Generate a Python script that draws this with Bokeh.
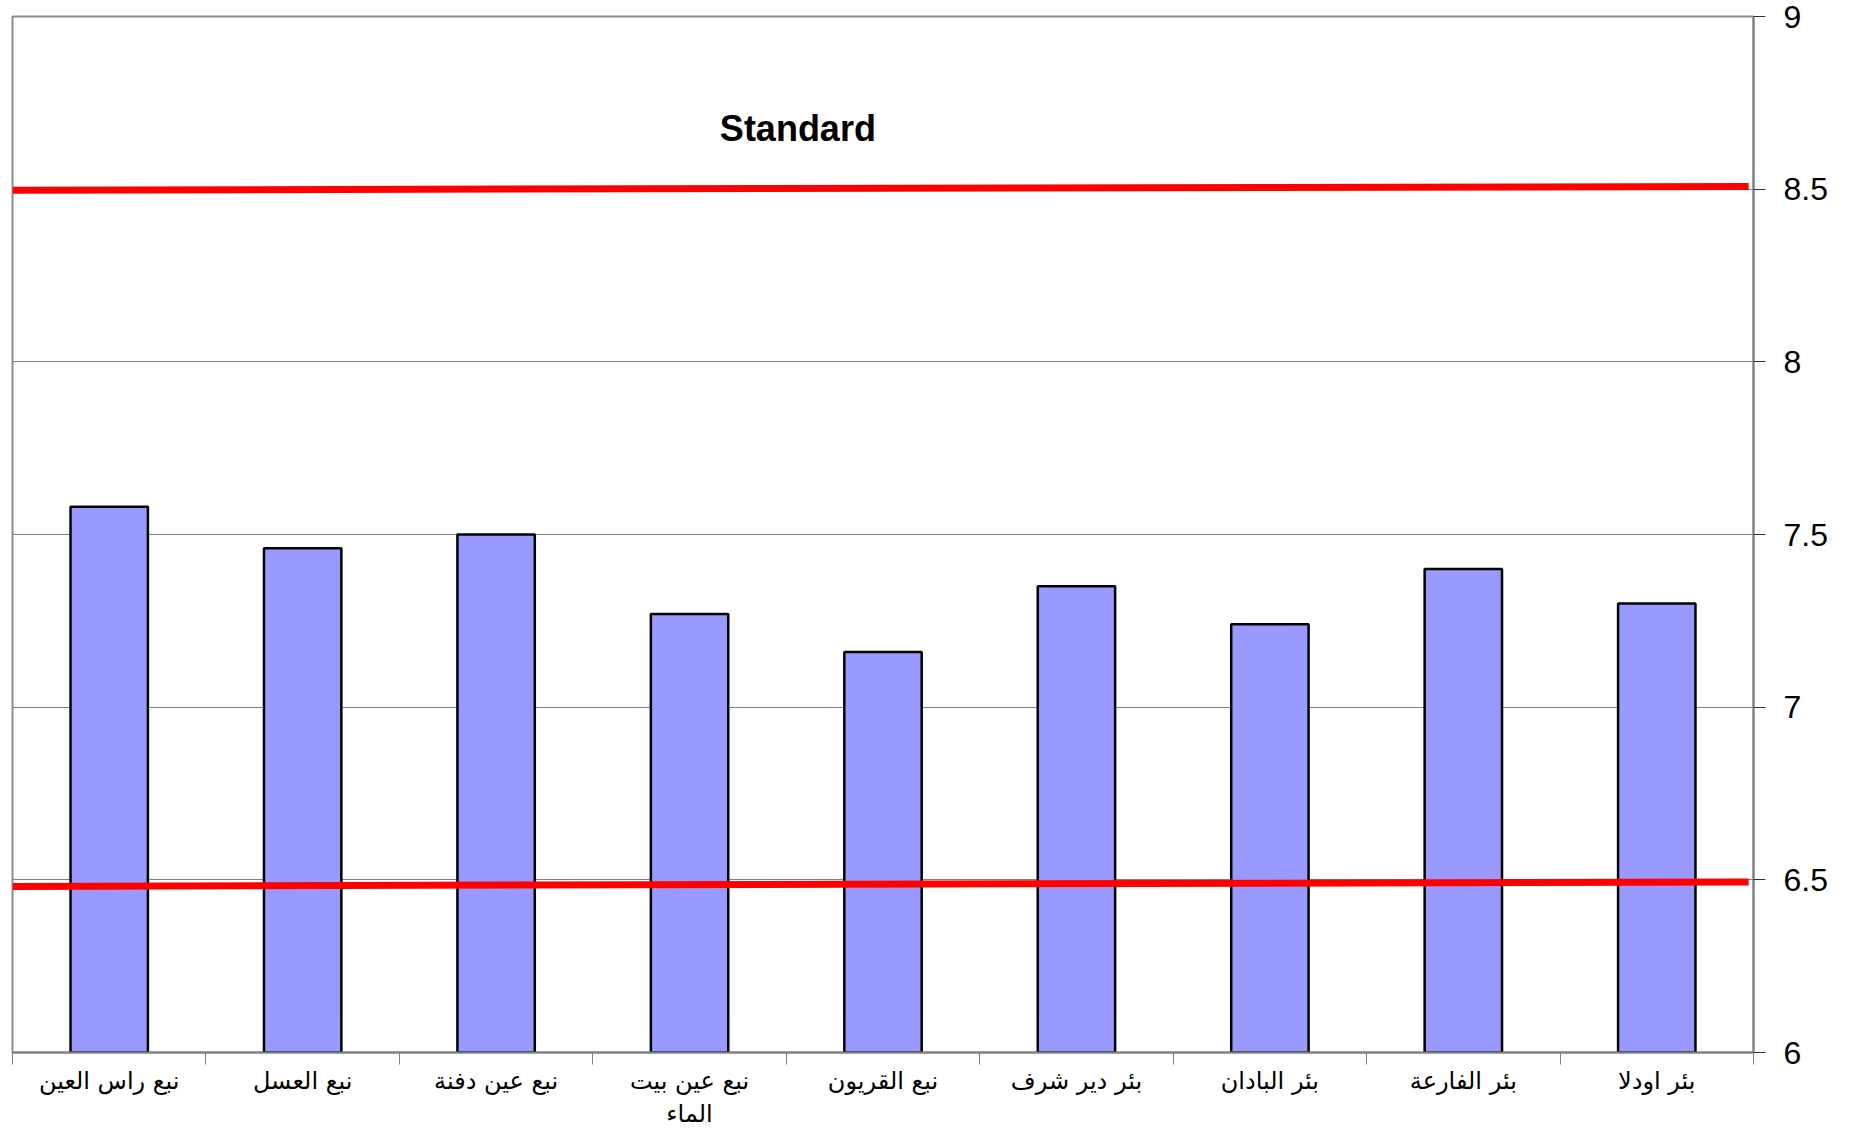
from bokeh.plotting import figure
from bokeh.models import FixedTicker, Range1d, Label
from bokeh.embed import file_html
from bokeh.resources import INLINE

# ---- data ----
categories = ["نبع راس العين", "نبع العسل", "نبع عين دفنة", "نبع عين بيت\nالماء", "نبع القريون",
              "بئر دير شرف", "بئر البادان", "بئر الفارعة", "بئر اودلا"]
ph_values = [7.58, 7.46, 7.50, 7.27, 7.16, 7.35, 7.24, 7.40, 7.30]
y_ticks = [6, 6.5, 7, 7.5, 8, 8.5, 9]
y_tick_labels = ["6", "6.5", "7", "7.5", "8", "8.5", "9"]
upper_standard_y = [8.497, 8.508]   # hand-drawn line, left/right ends
lower_standard_y = [6.481, 6.494]
standard_label = "Standard"

n = len(categories)
centers = [i + 0.5 for i in range(n)]
bounds = list(range(n + 1))

p = figure(width=1859, height=1131, output_backend="svg", toolbar_location=None,
           x_range=Range1d(0, n), y_range=Range1d(6, 9), y_axis_location="right",
           min_border_left=12, min_border_top=16, min_border_right=106, min_border_bottom=20)
p.background_fill_color = "white"
p.border_fill_color = "white"
p.outline_line_color = "#8c8c8c"
p.outline_line_width = 2

# grid
p.xgrid.grid_line_color = None
p.ygrid.ticker = FixedTicker(ticks=y_ticks)
p.ygrid.grid_line_color = "#808080"
p.ygrid.grid_line_width = 1

# bars
p.vbar(x=centers, top=ph_values, bottom=6, width=0.4, fill_color="#9999FF",
       line_color="black", line_width=2.5)

# standard lines
p.segment(x0=[0, 0], x1=[n * 0.9972, n * 0.9972],
          y0=[upper_standard_y[0], lower_standard_y[0]],
          y1=[upper_standard_y[1], lower_standard_y[1]],
          line_color="#FF0000", line_width=7)

p.add_layout(Label(x=4.06, y=8.676, text=standard_label, text_align="center",
                   text_baseline="middle", text_font="Liberation Sans",
                   text_font_style="bold", text_font_size="36px", text_color="black"))

# y axis (right)
ya = p.yaxis[0]
ya.ticker = FixedTicker(ticks=y_ticks)
ya.major_label_overrides = {t: l for t, l in zip(y_ticks, y_tick_labels)}
ya.major_label_text_font = "Liberation Sans"
ya.major_label_text_font_size = "32px"
ya.major_label_text_color = "black"
ya.major_label_standoff = 18
ya.axis_line_color = "#808080"
ya.axis_line_width = 2
ya.major_tick_in = 0
ya.major_tick_out = 12
ya.major_tick_line_color = "#333333"
ya.minor_tick_line_color = None

# x axis (below)
xa = p.xaxis[0]
xa.ticker = FixedTicker(ticks=centers, minor_ticks=bounds)
xa.major_label_overrides = {c: name for c, name in zip(centers, categories)}
xa.major_label_text_font = "DejaVu Sans"
xa.major_label_text_font_size = "24px"
xa.major_label_text_color = "black"
xa.major_label_standoff = 2
xa.major_tick_line_color = None
xa.major_tick_in = 0
xa.major_tick_out = 0
xa.minor_tick_in = 0
xa.minor_tick_out = 12
xa.minor_tick_line_color = "#808080"
xa.axis_line_color = "#808080"
xa.axis_line_width = 2

open("out.html", "w").write(file_html(p, INLINE))
